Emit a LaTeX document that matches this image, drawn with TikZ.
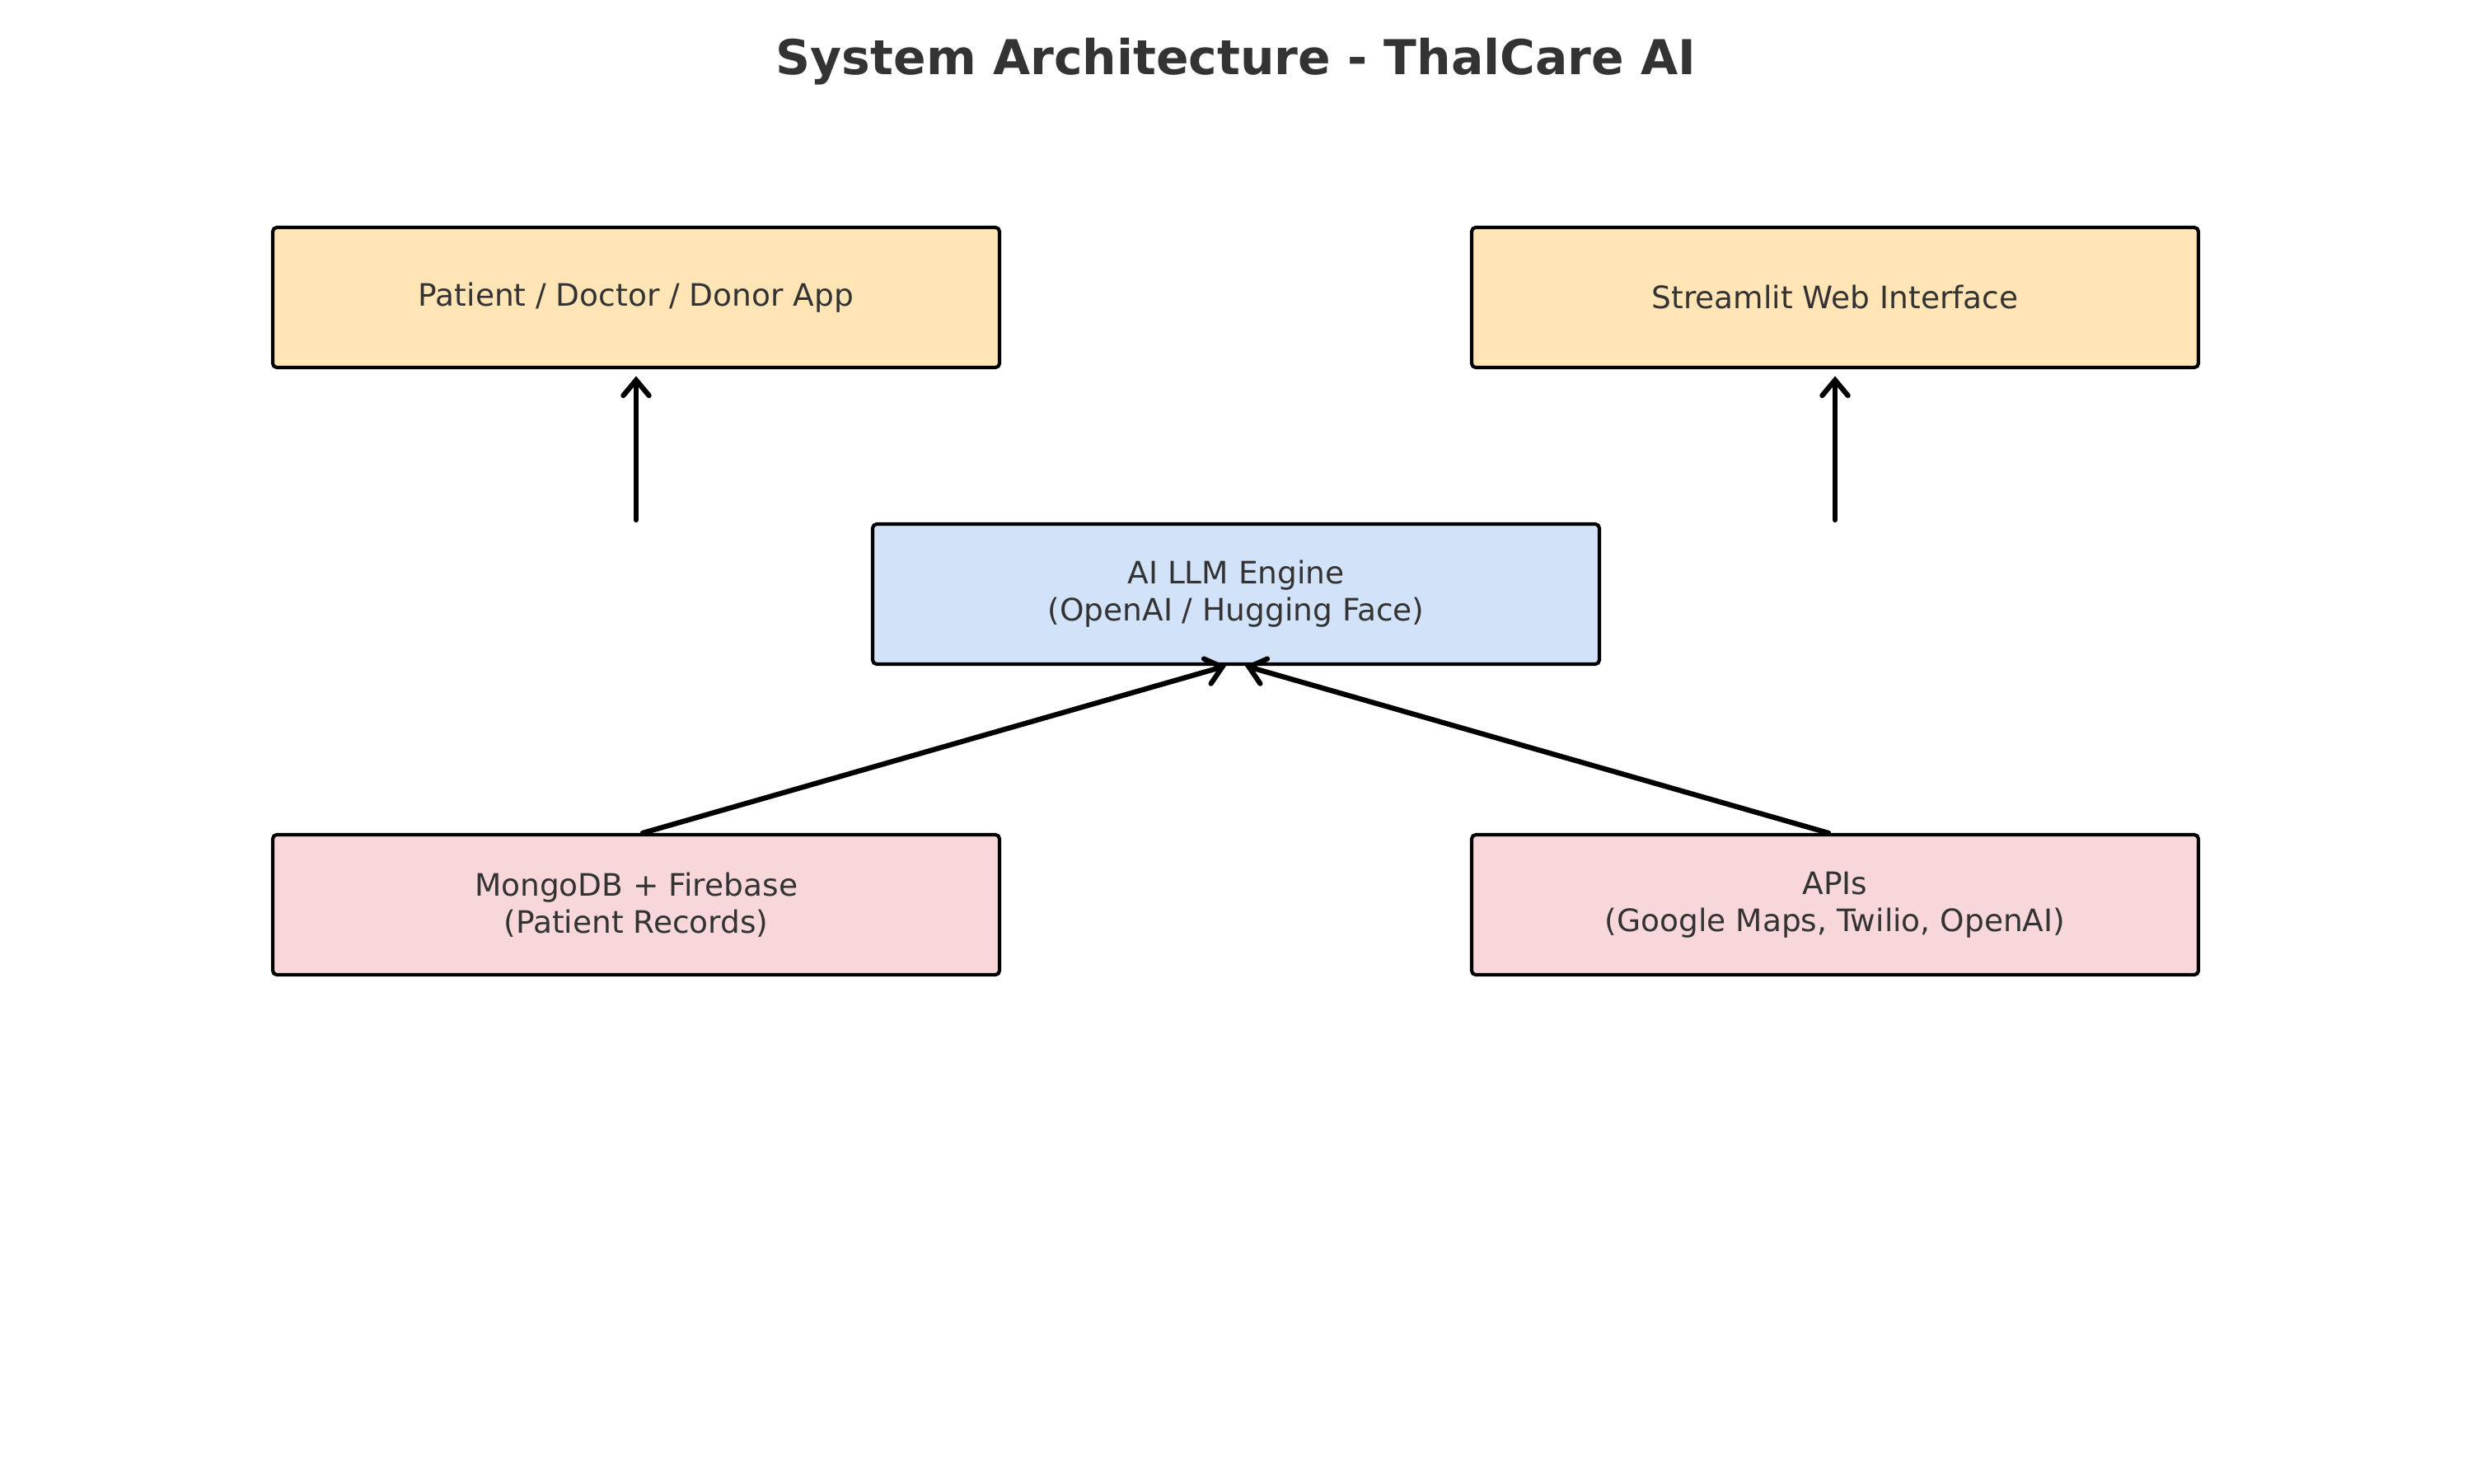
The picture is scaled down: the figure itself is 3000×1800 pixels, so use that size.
\documentclass[tikz,border=0pt]{standalone}
\usepackage{fontspec}
\setmainfont{DejaVu Sans}
\usetikzlibrary{arrows.meta}
\definecolor{txt}{HTML}{333333}
\definecolor{boxorange}{HTML}{FFE4B5}
\definecolor{boxblue}{HTML}{D2E2F9}
\definecolor{boxpink}{HTML}{F7D7DA}
\tikzset{
  box/.style={draw=black, line width=1pt, rounded corners=1.2pt, minimum width=882*0.24pt, minimum height=170*0.24pt, inner sep=0pt, align=center, text=txt, font=\fontsize{9}{10.8}\selectfont},
  flow/.style={line width=1.5pt, -{Straight Barb[length=4.5pt,width=7.5pt,line cap=round]}, line cap=round}
}
\begin{document}
\begin{tikzpicture}[x=0.24pt,y=-0.24pt]
\useasboundingbox (0,0) rectangle (3000,1800);
\node[text=txt, font=\bfseries\fontsize{14}{16}\selectfont] (title) at (1500,75) {System Architecture - ThalCare AI};
\node[box, fill=boxorange] (app) at (772,361) {Patient / Doctor / Donor App};
\node[box, fill=boxorange] (web) at (2227,361) {Streamlit Web Interface};
\node[box, fill=boxblue] (llm) at (1500,721) {AI LLM Engine\\(OpenAI / Hugging Face)};
\node[box, fill=boxpink] (db) at (772,1098) {MongoDB + Firebase\\(Patient Records)};
\node[box, fill=boxpink] (api) at (2227,1098) {APIs\\(Google Maps, Twilio, OpenAI)};
\coordinate (s1) at (772,631);
\coordinate (s2) at (2227,631);
\draw[flow] (s1) -- ([yshift=-2pt]app.south);
\draw[flow] (s2) -- ([yshift=-2pt]web.south);
\draw[flow] ([xshift=8*0.24pt]db.north) -- ([xshift=-12*0.24pt]llm.south);
\draw[flow] ([xshift=-8*0.24pt]api.north) -- ([xshift=11*0.24pt]llm.south);
\end{tikzpicture}
\end{document}
